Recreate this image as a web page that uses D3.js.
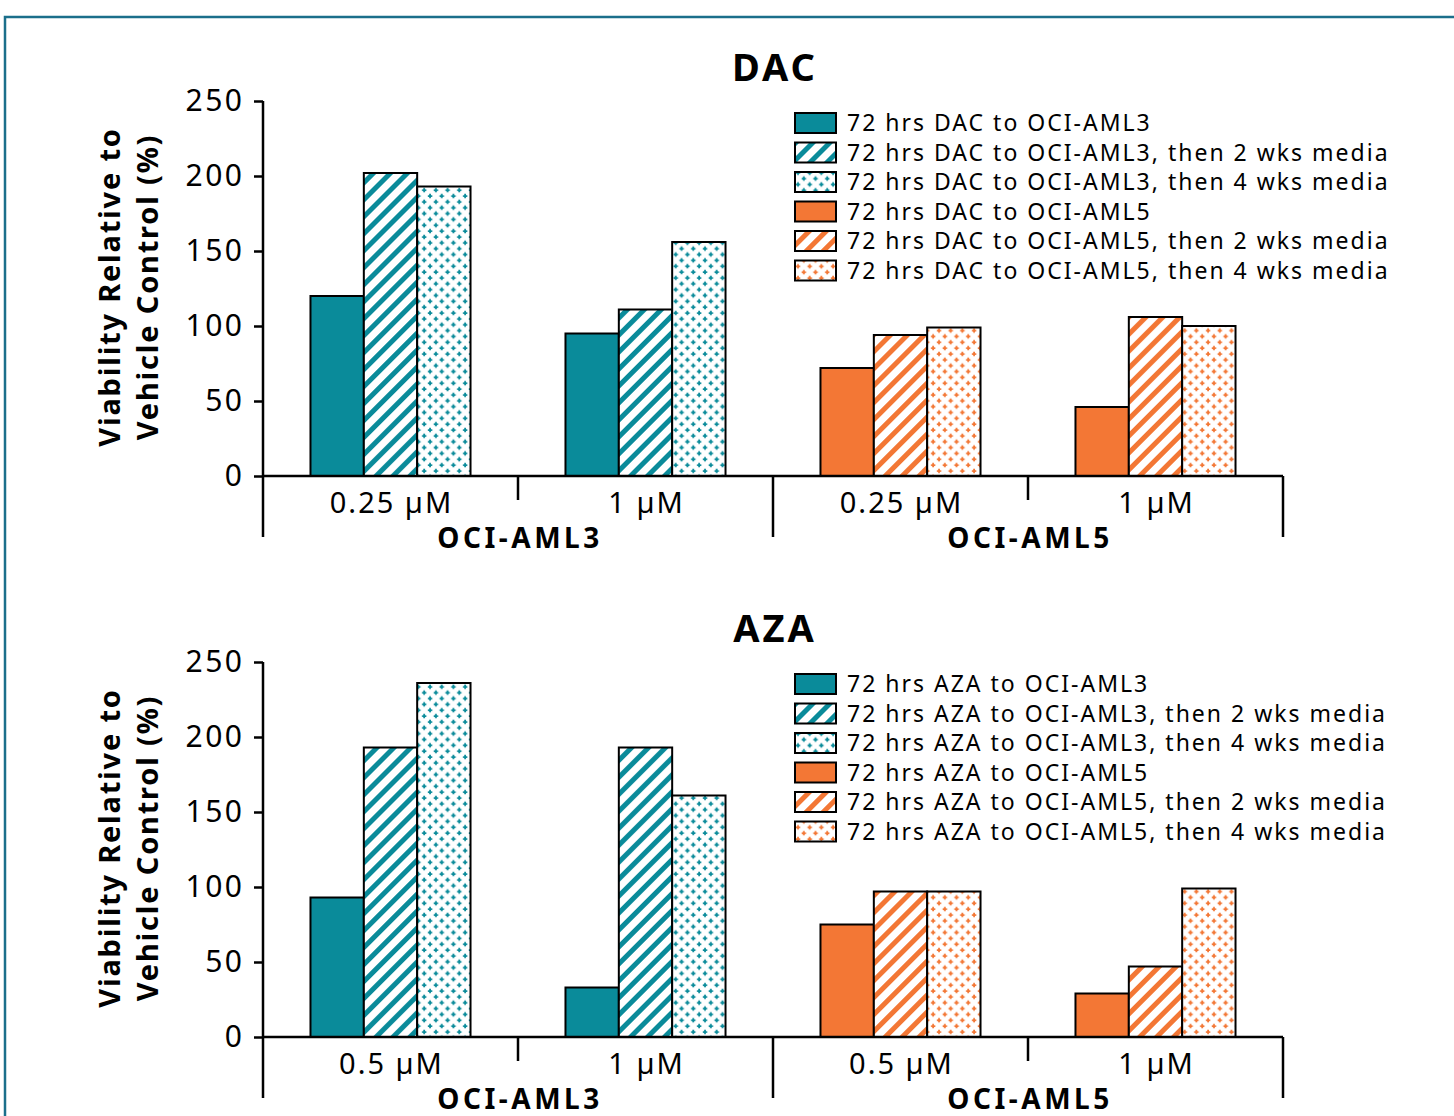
<!DOCTYPE html>
<html>
<head>
<meta charset="utf-8">
<script src="https://cdn.jsdelivr.net/npm/d3@7"></script>
<style>
  body { margin: 0; background: #fff; }
  svg { display: block; font-family: "Noto Sans", Lato, sans-serif; }
</style>
</head>
<body>
<svg id="chart" width="1454" height="1116"></svg>
<script>
// data
const cellLines = ["OCI-AML3", "OCI-AML5"]
const dacDoses = ["0.25 µM", "1 µM", "0.25 µM", "1 µM"]
const azaDoses = ["0.5 µM", "1 µM", "0.5 µM", "1 µM"]
const series = ["72 hrs", "then 2 wks media", "then 4 wks media"]
const yTicks = [0, 50, 100, 150, 200, 250]
// one row per dose group, one value per series
const dacValues = [[120, 202, 193], [95, 111, 156], [72, 94, 99], [46, 106, 100]]
const azaValues = [[93, 193, 236], [33, 193, 161], [75, 97, 97], [29, 47, 99]]

const teal = "#0a8b9a"
const orange = "#f37735"

const svg = d3.select("#chart")

// frame
svg.append("rect")
    .attr("x", 5).attr("y", 17)
    .attr("width", 1470).attr("height", 1200)
    .attr("fill", "none")
    .attr("stroke", "#1b6f8b")
    .attr("stroke-width", 2.5)

// patterns
const defs = svg.append("defs")
function makePatterns(name, color) {
    defs.append("pattern")
        .attr("id", "hatch-" + name)
        .attr("patternUnits", "userSpaceOnUse")
        .attr("width", 12).attr("height", 12)
        .attr("patternTransform", "rotate(45)")
        .call(p => {
            p.append("rect").attr("width", 12).attr("height", 12).attr("fill", "white")
            p.append("rect").attr("x", 0).attr("width", 5).attr("height", 12).attr("fill", color)
        })
    const dots = defs.append("pattern")
        .attr("id", "dots-" + name)
        .attr("patternUnits", "userSpaceOnUse")
        .attr("width", 11.7).attr("height", 11.7)
    dots.append("rect").attr("width", 11.7).attr("height", 11.7).attr("fill", "white")
    ;[[3, 3], [8.85, 8.85]].forEach(c => {
        dots.append("path")
            .attr("d", `M${c[0] - 0.9},${c[1] - 2.2}h1.8v1.3h1.3v1.8h-1.3v1.3h-1.8v-1.3h-1.3v-1.8h1.3z`)
            .attr("fill", color)
    })
}
makePatterns("aml3", teal)
makePatterns("aml5", orange)

function fillFor(line, s) {
    const name = line === 0 ? "aml3" : "aml5"
    const col = line === 0 ? teal : orange
    if (s === 0) return col
    if (s === 1) return "url(#hatch-" + name + ")"
    return "url(#dots-" + name + ")"
}

function drawPanel(top, drug, doses, values) {
    const g = svg.append("g").attr("transform", `translate(0,${top})`)
    const y = d3.scaleLinear().domain([0, 250]).range([476, 101])
    const x = d3.scaleBand().domain(d3.range(doses.length)).range([263, 1283])
    const xs = d3.scaleBand().domain(d3.range(series.length)).range([0, x.bandwidth()])
        .paddingInner(0).paddingOuter(0.89)

    // title
    g.append("text")
        .attr("x", 775).attr("y", 81)
        .attr("text-anchor", "middle")
        .attr("font-size", 38).attr("font-weight", "bold")
        .attr("letter-spacing", 3)
        .text(drug)

    // bars
    values.forEach((vals, gi) => {
        const line = Math.floor(gi / 2)
        g.append("g").selectAll("rect")
            .data(vals)
            .join("rect")
            .attr("x", (d, i) => x(gi) + xs(i))
            .attr("y", d => y(d))
            .attr("width", xs.bandwidth())
            .attr("height", d => y(0) - y(d))
            .attr("fill", (d, i) => fillFor(line, i))
            .attr("stroke", "black")
            .attr("stroke-width", 2)
    })

    // y axis
    const yAxis = g.append("g")
        .attr("transform", "translate(263,0)")
        .call(d3.axisLeft(y).tickValues(yTicks).tickSize(9).tickPadding(12))
    yAxis.select(".domain").remove()
    yAxis.selectAll("line").attr("stroke-width", 2.5)
    yAxis.selectAll("text")
        .attr("font-size", 30)
        .attr("letter-spacing", 2.5)
        .attr("dx", 2.5)
        .attr("font-family", "Noto Sans, sans-serif")
        .attr("fill", "black")
    g.append("line")
        .attr("x1", 263).attr("x2", 263)
        .attr("y1", y(250)).attr("y2", 537)
        .attr("stroke", "black").attr("stroke-width", 2.5)

    // x axis line and dividers
    g.append("line")
        .attr("x1", 263).attr("x2", 1283)
        .attr("y1", y(0)).attr("y2", y(0))
        .attr("stroke", "black").attr("stroke-width", 2.5)
    const edges = d3.range(doses.length + 1).map(i => i < doses.length ? x(i) : x(i - 1) + x.bandwidth())
    g.selectAll(".divider")
        .data(edges.slice(1))
        .join("line")
        .attr("class", "divider")
        .attr("x1", d => d).attr("x2", d => d)
        .attr("y1", y(0))
        .attr("y2", (d, i) => i % 2 === 0 ? 500 : 537)
        .attr("stroke", "black").attr("stroke-width", 2.5)

    // dose labels
    g.selectAll(".dose")
        .data(doses)
        .join("text")
        .attr("class", "dose")
        .attr("x", (d, i) => x(i) + x.bandwidth() / 2 + 1)
        .attr("y", 513)
        .attr("text-anchor", "middle")
        .attr("font-size", 29)
        .attr("letter-spacing", 2)
        .text(d => d)

    // cell line labels
    g.selectAll(".cell")
        .data(cellLines)
        .join("text")
        .attr("class", "cell")
        .attr("x", (d, i) => x(i * 2) + x.bandwidth() + 2)
        .attr("y", 548)
        .attr("text-anchor", "middle")
        .attr("font-size", 28).attr("font-weight", "bold")
        .attr("letter-spacing", 3.5)
        .text(d => d)

    // y label
    const yl = g.append("text")
        .attr("transform", "translate(0,287) rotate(-90)")
        .attr("text-anchor", "middle")
        .attr("font-size", 29).attr("font-weight", "bold")
        .attr("letter-spacing", 1.8)
    yl.append("tspan").attr("x", 0).attr("y", 120).text("Viability Relative to")
    yl.append("tspan").attr("x", 0).attr("y", 158).text("Vehicle Control (%)")

    // legend
    const items = []
    cellLines.forEach((c, li) => series.forEach((s, si) => {
        const label = si === 0
            ? `72 hrs ${drug} to ${c}`
            : `72 hrs ${drug} to ${c}, ${s}`
        items.push({ label, fill: fillFor(li, si) })
    }))
    const leg = g.append("g").attr("transform", "translate(795,123)")
    leg.selectAll("rect")
        .data(items)
        .join("rect")
        .attr("x", 0)
        .attr("y", (d, i) => i * 29.5 - 10)
        .attr("width", 41).attr("height", 20)
        .attr("fill", d => d.fill)
        .attr("stroke", "black").attr("stroke-width", 2)
    leg.selectAll("text")
        .data(items)
        .join("text")
        .attr("x", 52)
        .attr("y", (d, i) => i * 29.5)
        .attr("dy", "0.35em")
        .attr("font-size", 23)
        .attr("letter-spacing", 2)
        .text(d => d.label)
}

drawPanel(0, "DAC", dacDoses, dacValues)
drawPanel(561, "AZA", azaDoses, azaValues)
</script>
</body>
</html>
